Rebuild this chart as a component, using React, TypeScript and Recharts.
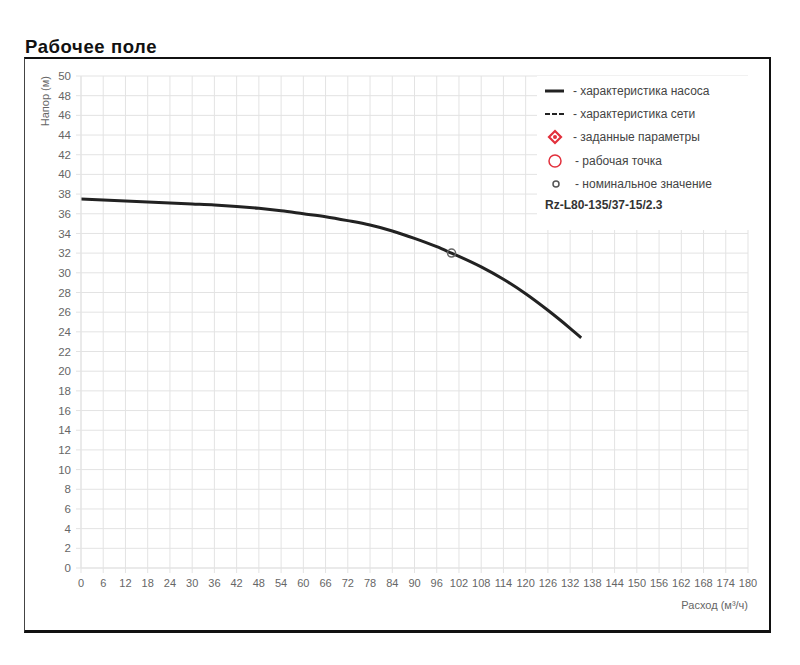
import React from 'react';
import { ComposedChart, Line, Scatter, XAxis, YAxis, CartesianGrid, Legend, Label } from 'recharts';

// pump curve (flow m3/h -> head m)
const pumpFlow = [0, 6, 12, 18, 24, 30, 36, 42, 48, 54, 60, 66, 72, 78, 84, 90, 96, 100, 102, 108, 114, 120, 126, 132, 135];
const pumpHead = [37.5, 37.4, 37.3, 37.2, 37.1, 37.0, 36.9, 36.75, 36.55, 36.3, 36.0, 35.7, 35.3, 34.85, 34.25, 33.5, 32.65, 32.0, 31.67, 30.6, 29.34, 27.87, 26.19, 24.36, 23.4];

const nominalFlow = [100];
const nominalHead = [32];

const xTicks = [0, 6, 12, 18, 24, 30, 36, 42, 48, 54, 60, 66, 72, 78, 84, 90, 96, 102, 108, 114, 120, 126, 132, 138, 144, 150, 156, 162, 168, 174, 180];
const yTicks = [0, 2, 4, 6, 8, 10, 12, 14, 16, 18, 20, 22, 24, 26, 28, 30, 32, 34, 36, 38, 40, 42, 44, 46, 48, 50];

const legendLabels = [
  '- характеристика насоса',
  '- характеристика сети',
  '- заданные параметры',
  '- рабочая точка',
  '- номинальное значение',
];
const modelName = 'Rz-L80-135/37-15/2.3';

const pumpData = pumpFlow.map((q, i) => ({ q, h: pumpHead[i] }));
const nominalData = nominalFlow.map((q, i) => ({ q, h: nominalHead[i] }));

const FONT = '"Liberation Sans", Arial, sans-serif';
const GRID = '#e3e3e3';
const RED = '#e2303c';

function LegendIcon({ kind }: { kind: number }) {
  return (
    <svg width={24} height={20} style={{ display: 'block' }}>
      {kind === 0 && <line x1={0} y1={10} x2={19} y2={10} stroke="#222" strokeWidth={3} />}
      {kind === 1 && <line x1={0} y1={10} x2={19} y2={10} stroke="#222" strokeWidth={2} strokeDasharray="5 2" />}
      {kind === 2 && (
        <g>
          <path d="M10 4 L16 10 L10 16 L4 10 Z" fill="none" stroke={RED} strokeWidth={2.2} />
          <circle cx={10} cy={10} r={2} fill={RED} />
        </g>
      )}
      {kind === 3 && <circle cx={10} cy={10} r={6} fill="none" stroke={RED} strokeWidth={1.5} />}
      {kind === 4 && <circle cx={11} cy={10} r={3} fill="none" stroke="#555" strokeWidth={1.5} />}
    </svg>
  );
}

function ChartLegend() {
  return (
    <div style={{ position: 'relative', width: 220, height: 154, background: '#fff', fontFamily: FONT }}>
      {legendLabels.map((t, i) => (
        <div key={t} style={{ position: 'absolute', left: 8, top: 5 + i * 23.2, height: 20, display: 'flex', alignItems: 'center' }}>
          <LegendIcon kind={i} />
          <span style={{ fontSize: 12, color: '#444', marginLeft: i < 3 ? 4 : 6 }}>{t}</span>
        </div>
      ))}
      <div style={{ position: 'absolute', left: 8, top: 122, fontSize: 12, fontWeight: 700, color: '#333' }}>{modelName}</div>
    </div>
  );
}

const yLabel = (props: any) => {
  const { x, y } = props.viewBox;
  return (
    <text x={x + 20} y={y} transform={`rotate(-90, ${x + 20}, ${y})`} textAnchor="end" dominantBaseline="central"
      fontSize={11} fill="#666" fontFamily={FONT}>
      Напор (м)
    </text>
  );
};

const xLabel = (props: any) => {
  const { x, y, width } = props.viewBox;
  return (
    <text x={x + width} y={y + 37} textAnchor="end" dominantBaseline="central" fontSize={11} fill="#666" fontFamily={FONT}>
      Расход (м³/ч)
    </text>
  );
};

const nominalShape = (props: any) => (
  <circle cx={props.cx} cy={props.cy} r={4} fill="none" stroke="#666" strokeWidth={1.5} />
);

export default function App() {
  const xTick = { fontSize: 11, fill: '#666', fontFamily: FONT };
  const yTick = { fontSize: 11.5, fill: '#666', fontFamily: FONT };
  return (
    <div style={{ position: 'absolute', left: 0, top: 0, width: 800, height: 665, background: '#fff', fontFamily: FONT }}>
      <div style={{ position: 'absolute', left: 25, top: 37, fontSize: 18.5, lineHeight: '20px', letterSpacing: 0.6, fontWeight: 700, color: '#111' }}>
        Рабочее поле
      </div>
      <div style={{
        position: 'absolute', left: 24, top: 57, width: 747, height: 576, boxSizing: 'border-box',
        borderTop: '2px solid #111', borderRight: '2px solid #111', borderBottom: '3px solid #111', borderLeft: '1px solid #444',
      }} />
      <div style={{ position: 'absolute', left: 25, top: 58 }}>
        <ComposedChart width={745} height={574} margin={{ top: 18, right: 22, bottom: 34, left: 0 }}>
          <CartesianGrid stroke={GRID} vertical horizontal />
          <XAxis type="number" dataKey="q" domain={[0, 180]} ticks={xTicks} interval={0} height={30}
            tick={xTick} tickSize={5} tickMargin={6} stroke={GRID} allowDataOverflow>
            <Label content={xLabel} />
          </XAxis>
          <YAxis type="number" domain={[0, 50]} ticks={yTicks} interval={0} width={56}
            tick={yTick} tickSize={5} tickMargin={5} stroke={GRID} allowDataOverflow>
            <Label content={yLabel} />
          </YAxis>
          <Legend layout="vertical" align="center" verticalAlign="middle" content={() => <ChartLegend />}
            wrapperStyle={{ position: 'absolute', left: 512, top: 18, width: 220, height: 154 }} />
          <Line data={pumpData} dataKey="h" type="monotone" stroke="#222" strokeWidth={3} dot={false}
            isAnimationActive={false} legendType="none" />
          <Scatter data={nominalData} dataKey="h" shape={nominalShape} isAnimationActive={false} legendType="none" />
        </ComposedChart>
      </div>
    </div>
  );
}
